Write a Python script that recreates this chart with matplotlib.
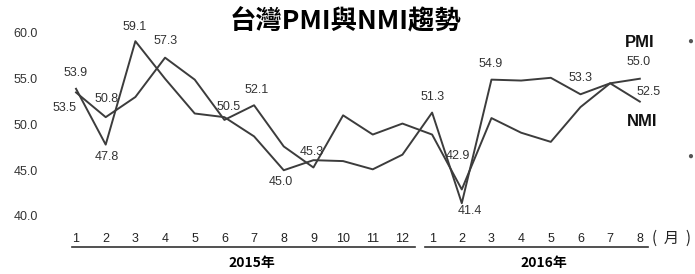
import numpy as np
import matplotlib.pyplot as plt

plt.rcParams['font.family'] = ['Liberation Sans', 'Noto Sans CJK TC', 'DejaVu Sans']

# 月份與數值 (2015/1 ~ 2016/8)
months = ['1', '2', '3', '4', '5', '6', '7', '8', '9', '10', '11', '12',
          '1', '2', '3', '4', '5', '6', '7', '8']
pmi = [53.9, 47.8, 59.1, 55.0, 51.2, 50.8, 48.7, 45.0, 46.1, 46.0, 45.1, 46.7,
       51.3, 41.4, 54.9, 54.8, 55.1, 53.3, 54.5, 55.0]
nmi = [53.5, 50.8, 53.0, 57.3, 54.9, 50.5, 52.1, 47.6, 45.3, 51.0, 48.9, 50.1,
       48.9, 42.9, 50.7, 49.1, 48.1, 51.9, 54.5, 52.5]
yticks = [40.0, 45.0, 50.0, 55.0, 60.0]
years = ['2015年', '2016年']

# 有標數值的點: 月份索引 -> 偏移px
pmi_marks = {0: (0, 16), 1: (1, -12), 2: (-1, 14), 7: (-3, -12), 12: (0, 16),
             13: (8, -8), 14: (-1, 16), 17: (0, 16), 19: (-1, 17)}
nmi_marks = {0: (-12, -16), 1: (1, 18), 3: (1, 17), 5: (4, 13), 6: (3, 15),
             8: (-2, 15), 13: (-4, 33), 19: (9, 10)}

W, H = 695, 274
fig = plt.figure(figsize=(W / 100, H / 100), dpi=100)
ax = fig.add_axes([60 / W, (H - 230) / H, 600 / W, 205 / H])

x = np.arange(len(months))
line_c = '#3c3c3c'
ax.plot(x, nmi, color=line_c, lw=1.4)
ax.plot(x, pmi, color=line_c, lw=1.4)

ax.set_xlim(-0.54, 19.68)
ax.set_ylim(38.47, 60.87)
for s in ax.spines.values():
    s.set_visible(False)

ax.set_yticks(yticks)
ax.set_yticklabels([f'{v:.1f}' for v in yticks])
ax.tick_params(axis='y', length=0, pad=16, labelsize=9, labelcolor='#333333')
ax.set_xticks(x)
ax.set_xticklabels(months)
ax.tick_params(axis='x', length=0, pad=2, labelsize=9, labelcolor='#222222')

for series, marks in ((pmi, pmi_marks), (nmi, nmi_marks)):
    for i, (dx, dy) in marks.items():
        ax.annotate(f'{series[i]:.1f}', (x[i], series[i]), xytext=(dx * 0.72, dy * 0.72),
                    textcoords='offset points', ha='center', va='center',
                    fontsize=9, color='#333333')

ax.annotate('PMI', (x[-1], pmi[-1]), xytext=(0, 36 * 0.72), textcoords='offset points',
            ha='center', va='center', fontsize=12, fontweight='bold', color='#111111')
ax.annotate('NMI', (x[-1], nmi[-1]), xytext=(2, -20 * 0.72), textcoords='offset points',
            ha='center', va='center', fontsize=12, fontweight='bold', color='#111111')

# 年份底線
tr = ax.get_xaxis_transform()
yb = (H - 247 - (H - 230)) / 205
ax.plot([-0.15, 11.42], [yb, yb], color='#333333', lw=1.2, transform=tr, clip_on=False)
ax.plot([11.76, 19.27], [yb, yb], color='#333333', lw=1.2, transform=tr, clip_on=False)
yt = (H - 263 - (H - 230)) / 205
ax.text(5.93, yt, years[0], transform=tr, ha='center', va='center', fontsize=10,
        fontweight='bold', family=['Noto Sans CJK TC'])
ax.text(15.77, yt, years[1], transform=tr, ha='center', va='center', fontsize=10,
        fontweight='bold', family=['Noto Sans CJK TC'])

fig.text(671 / W, 1 - 238 / H, '(  月  )', ha='center', va='center', fontsize=11,
         family=['Noto Sans CJK TC'], color='#222222')

fig.text(346 / W, 1 - 22 / H, '台灣PMI與NMI趨勢', ha='center', va='center', fontsize=19,
         fontweight='bold', family=['Noto Sans CJK TC'])

fig.text(690 / W, 1 - 41 / H, '●', ha='center', va='center', fontsize=7, color='#555555')
fig.text(690 / W, 1 - 156 / H, '●', ha='center', va='center', fontsize=7, color='#555555')

fig.savefig('out.png', dpi=100)
